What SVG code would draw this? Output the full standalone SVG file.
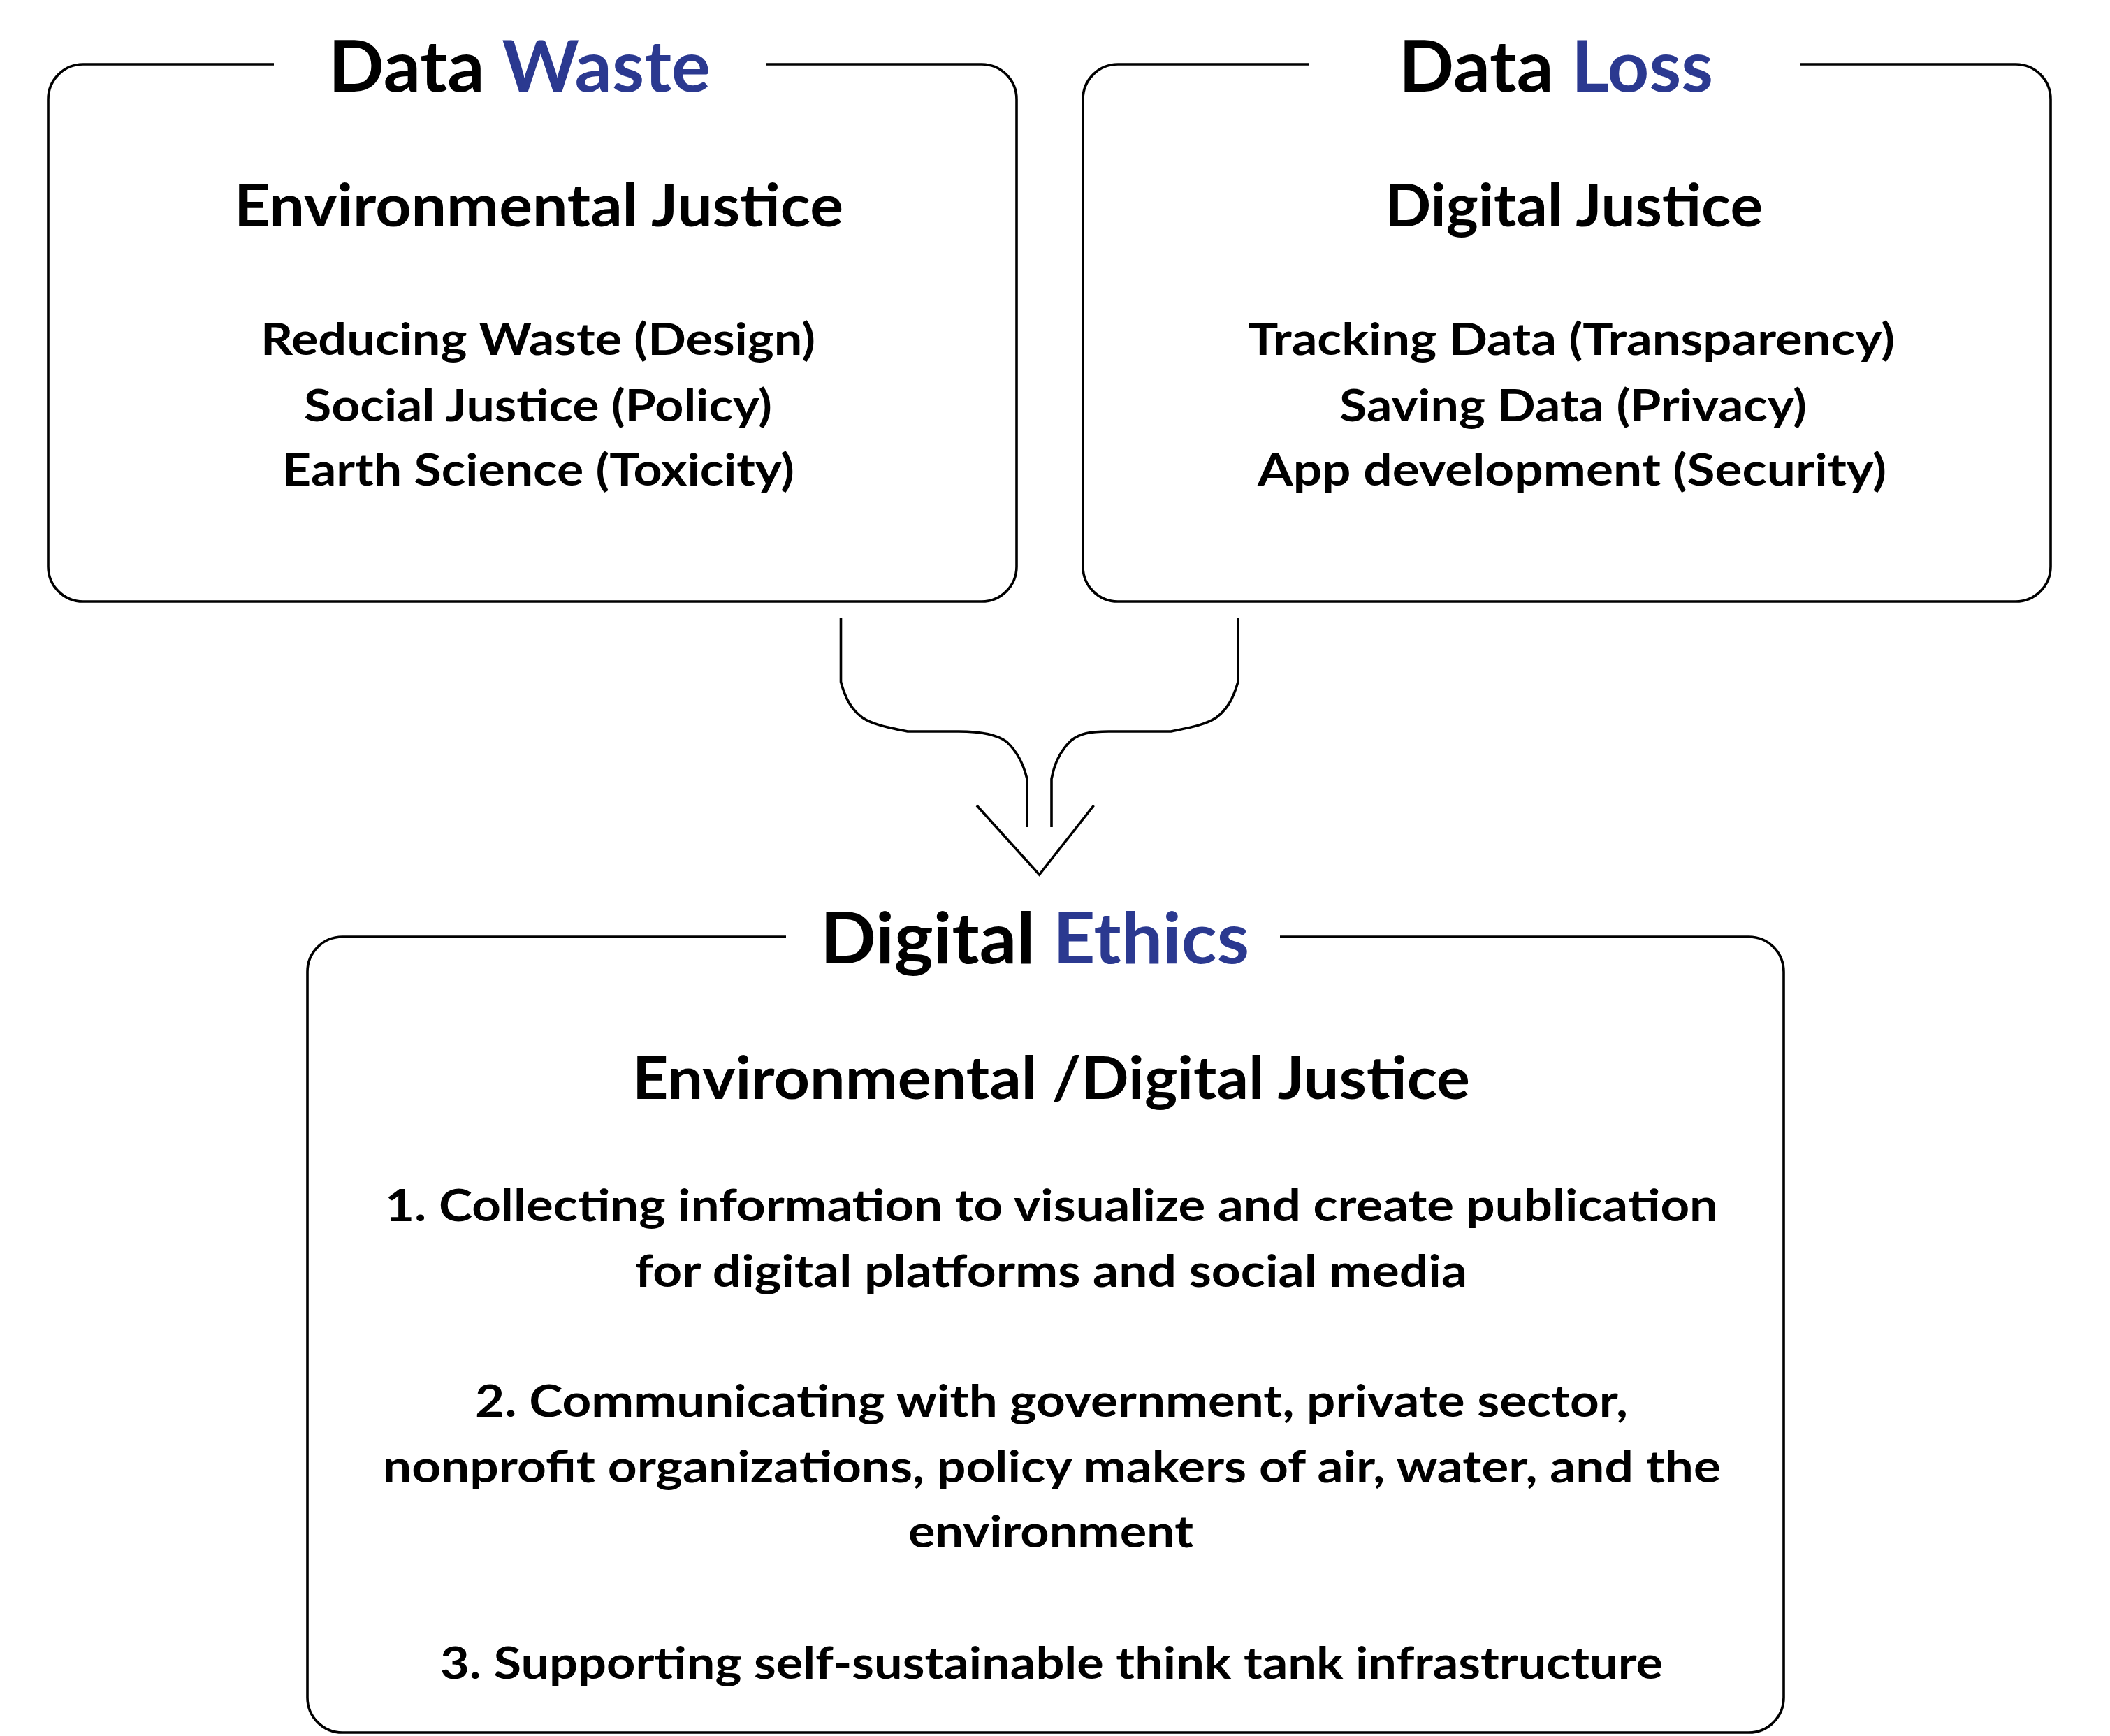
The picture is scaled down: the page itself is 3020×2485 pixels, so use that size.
<svg xmlns="http://www.w3.org/2000/svg" width="3020" height="2485" viewBox="0 0 3020 2485">
<style>
.frame{fill:none;stroke:#000;stroke-width:3.6}
.conn{fill:none;stroke:#000;stroke-width:3.6}
text{font-family:Lato,"Open Sans","Liberation Sans",sans-serif;font-weight:700;fill:#000;text-anchor:start}
.title{font-size:102px}
.sub{font-size:84px}
.item{font-size:64px}
.blue{fill:#2B3990}
</style>
<rect width="3020" height="2485" fill="#fff"/>
<g id="node-data-waste">
<path class="frame" d="M1096,92 H1405 A50,50 0 0 1 1455,142 V811 A50,50 0 0 1 1405,861 H119 A50,50 0 0 1 69,811 V142 A50,50 0 0 1 119,92 H392"/>
<text class="title" x="470" y="131" textLength="547" lengthAdjust="spacingAndGlyphs">Data <tspan class="blue">Waste</tspan></text>
<text class="sub" x="335" y="324" textLength="872" lengthAdjust="spacingAndGlyphs">Environmental Justice</text>
<text class="item" x="373" y="508" textLength="794" lengthAdjust="spacingAndGlyphs">Reducing Waste (Design)</text>
<text class="item" x="435" y="603" textLength="670" lengthAdjust="spacingAndGlyphs">Social Justice (Policy)</text>
<text class="item" x="404" y="695" textLength="733" lengthAdjust="spacingAndGlyphs">Earth Science (Toxicity)</text>
</g>
<g id="node-data-loss">
<path class="frame" d="M2576,92 H2885 A50,50 0 0 1 2935,142 V811 A50,50 0 0 1 2885,861 H1600 A50,50 0 0 1 1550,811 V142 A50,50 0 0 1 1600,92 H1873"/>
<text class="title" x="2002" y="131" textLength="450" lengthAdjust="spacingAndGlyphs">Data <tspan class="blue">Loss</tspan></text>
<text class="sub" x="1982" y="324" textLength="541" lengthAdjust="spacingAndGlyphs">Digital Justice</text>
<text class="item" x="1786" y="508" textLength="926" lengthAdjust="spacingAndGlyphs">Tracking Data (Transparency)</text>
<text class="item" x="1917" y="603" textLength="669" lengthAdjust="spacingAndGlyphs">Saving Data (Privacy)</text>
<text class="item" x="1800" y="695" textLength="900" lengthAdjust="spacingAndGlyphs">App development (Security)</text>
</g>
<g id="node-digital-ethics">
<path class="frame" d="M1832,1341 H2503 A50,50 0 0 1 2553,1391 V2430 A50,50 0 0 1 2503,2480 H490 A50,50 0 0 1 440,2430 V1391 A50,50 0 0 1 490,1341 H1125"/>
<text class="title" x="1174" y="1379" textLength="614" lengthAdjust="spacingAndGlyphs">Digital <tspan class="blue">Ethics</tspan></text>
<text class="sub" x="905" y="1573" textLength="1199" lengthAdjust="spacingAndGlyphs">Environmental /Digital Justice</text>
<text class="item" x="551" y="1748" textLength="1908" lengthAdjust="spacingAndGlyphs">1. Collecting information to visualize and create publication</text>
<text class="item" x="909" y="1842" textLength="1191" lengthAdjust="spacingAndGlyphs">for digital platforms and social media</text>
<text class="item" x="680" y="2028" textLength="1650" lengthAdjust="spacingAndGlyphs">2. Communicating with government, private sector,</text>
<text class="item" x="548" y="2122" textLength="1915" lengthAdjust="spacingAndGlyphs">nonprofit organizations, policy makers of air, water, and the</text>
<text class="item" x="1300" y="2215" textLength="408" lengthAdjust="spacingAndGlyphs">environment</text>
<text class="item" x="630" y="2403" textLength="1750" lengthAdjust="spacingAndGlyphs">3. Supporting self-sustainable think tank infrastructure</text>
</g>
<g id="connectors">
<path class="conn" d="M1203.5,885 V976 C1210,1000 1218,1015 1234,1027 C1250,1038 1275,1042 1299,1047 H1372 C1405,1047 1428,1052 1441,1062 C1458,1078 1466,1098 1470,1115 V1184"/>
<path class="conn" d="M1772,885 V976 C1765,1000 1757,1015 1741,1027 C1725,1038 1700,1042 1676,1047 H1587 C1560,1047 1545,1050 1533,1060 C1516,1076 1508,1098 1505,1115 V1184"/>
<path class="conn" d="M1398,1153 L1487.5,1252 L1565.5,1153"/>
</g>
</svg>
